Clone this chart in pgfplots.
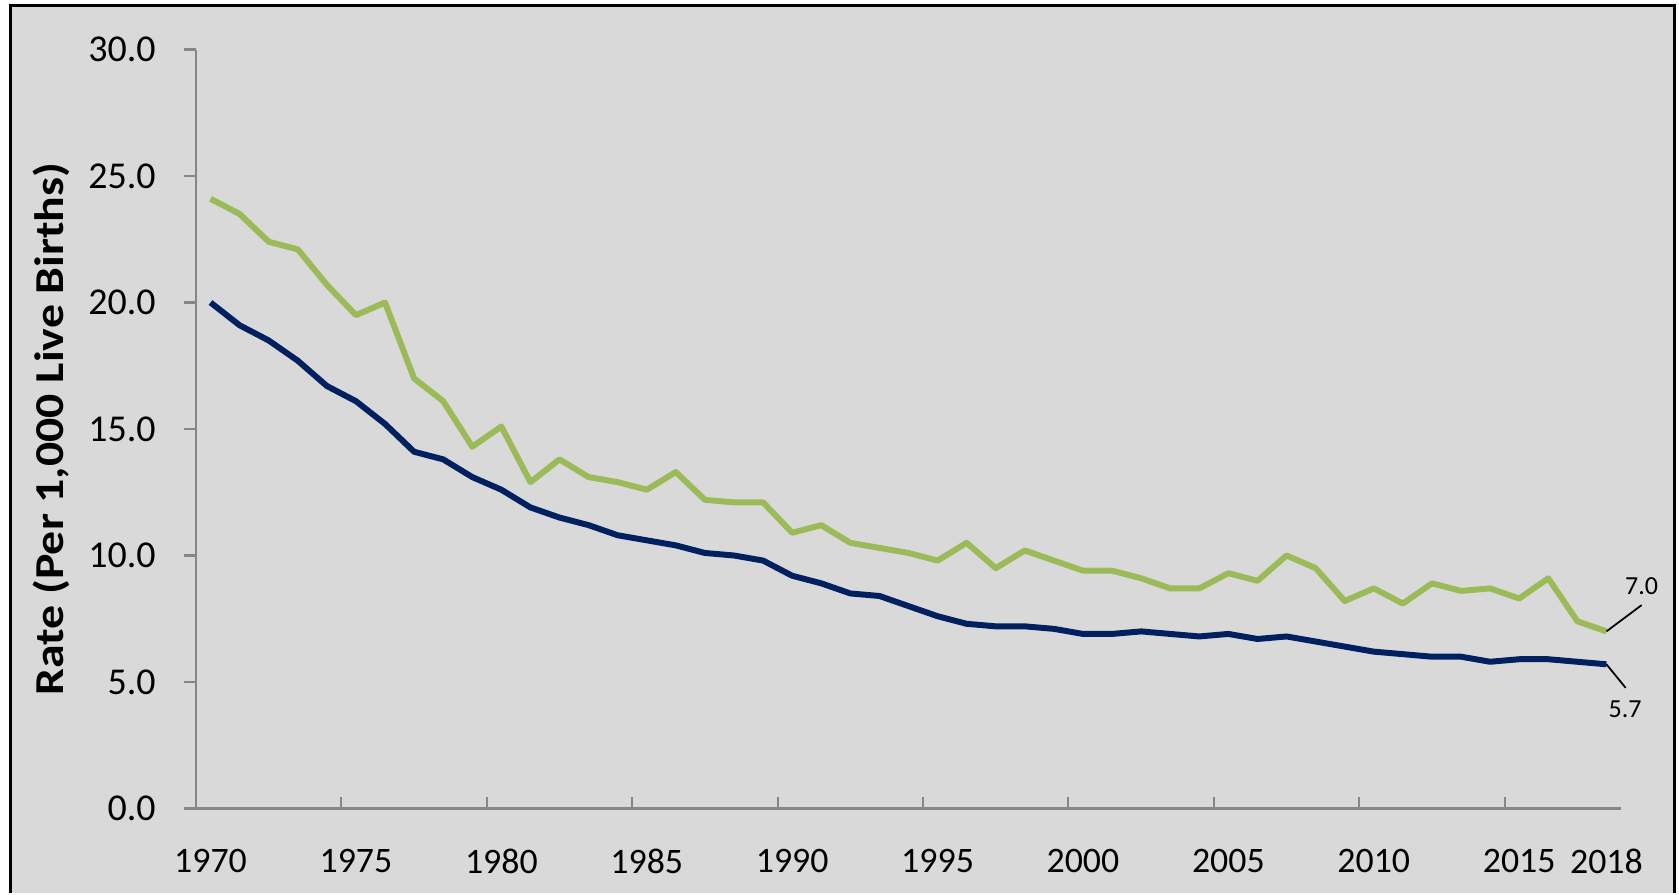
\documentclass[border=0pt]{standalone}
\usepackage{fontspec}
\setmainfont{Carlito}
\usepackage{pgfplots}
\pgfplotsset{compat=1.18}
\definecolor{bg}{HTML}{D9D9D9}
\definecolor{grn}{HTML}{9BBB59}
\definecolor{nvy}{HTML}{002060}
\definecolor{axg}{HTML}{868686}

\pgfplotstableread{
year green navy
1970 24.1 20.0
1971 23.5 19.1
1972 22.4 18.5
1973 22.1 17.7
1974 20.7 16.7
1975 19.5 16.1
1976 20.0 15.2
1977 17.0 14.1
1978 16.1 13.8
1979 14.3 13.1
1980 15.1 12.6
1981 12.9 11.9
1982 13.8 11.5
1983 13.1 11.2
1984 12.9 10.8
1985 12.6 10.6
1986 13.3 10.4
1987 12.2 10.1
1988 12.1 10.0
1989 12.1 9.8
1990 10.9 9.2
1991 11.2 8.9
1992 10.5 8.5
1993 10.3 8.4
1994 10.1 8.0
1995 9.8 7.6
1996 10.5 7.3
1997 9.5 7.2
1998 10.2 7.2
1999 9.8 7.1
2000 9.4 6.9
2001 9.4 6.9
2002 9.1 7.0
2003 8.7 6.9
2004 8.7 6.8
2005 9.3 6.9
2006 9.0 6.7
2007 10.0 6.8
2008 9.5 6.6
2009 8.2 6.4
2010 8.7 6.2
2011 8.1 6.1
2012 8.9 6.0
2013 8.6 6.0
2014 8.7 5.8
2015 8.3 5.9
2016 9.1 5.9
2017 7.4 5.8
2018 7.0 5.7
}\datatable

\begin{document}
\begin{tikzpicture}
\fill[white] (0,0) rectangle (167.9mm,89.3mm);
\fill[bg] (1.05mm,0) rectangle (167.4mm,88.7mm);
\draw[black, line width=0.3mm] (1.05mm,0) -- (1.05mm,88.7mm) -- (167.4mm,88.7mm) -- (167.4mm,0);
\begin{axis}[
  at={(19.6mm,8.45mm)}, anchor=south west,
  width=142.5mm, height=75.9mm, scale only axis,
  xmin=1969.5, xmax=2018.5, ymin=0, ymax=30,
  clip=false,
  axis x line=bottom, axis y line=left,
  axis line style={axg, line width=0.6pt, -},
  tick style={axg, line width=0.6pt},
  major tick length=1.2mm,
  xtick align=inside, ytick align=outside,
  xtick={1969.5,1974.5,1979.5,1984.5,1989.5,1994.5,1999.5,2004.5,2009.5,2014.5},
  xticklabels={},
  extra x ticks={1970,1975,1980,1985,1990,1995,2000,2005,2010,2015,2018},
  extra x tick labels={1970,1975,1980,1985,1990,1995,2000,2005,2010,2015,2018},
  extra x tick style={major tick length=0pt, xticklabel style={font=\fontsize{10.2}{12}\selectfont, yshift=-2.8mm}},
  ytick={0,5,10,15,20,25,30},
  yticklabel style={font=\fontsize{10.8}{12}\selectfont, /pgf/number format/.cd, fixed, fixed zerofill, precision=1, assume math mode=true},
  yticklabel shift=1.6mm,
  ylabel={\scalebox{1}[0.86]{Rate (Per 1,000 Live Births)}},
  ylabel style={font=\fontsize{13.6}{15}\bfseries\selectfont, at={(axis description cs:-0.1018,0.5)}, anchor=center},
]
\addplot[grn, line width=1.7pt, line join=round] table[x=year, y=green] {\datatable};
\addplot[nvy, line width=1.7pt, line join=round] table[x=year, y=navy] {\datatable};
\draw[black, line width=0.5pt] (axis cs:2018,7.0) -- (axis cs:2019.21,8.04);
\node[font=\fontsize{7.4}{9}\selectfont, inner sep=0pt] at (axis cs:2019.21,8.79) {7.0};
\draw[black, line width=0.5pt] (axis cs:2018,5.7) -- (axis cs:2018.66,4.77);
\node[font=\fontsize{7.4}{9}\selectfont, inner sep=0pt] at (axis cs:2018.64,3.91) {5.7};
\end{axis}
\end{tikzpicture}
\end{document}
